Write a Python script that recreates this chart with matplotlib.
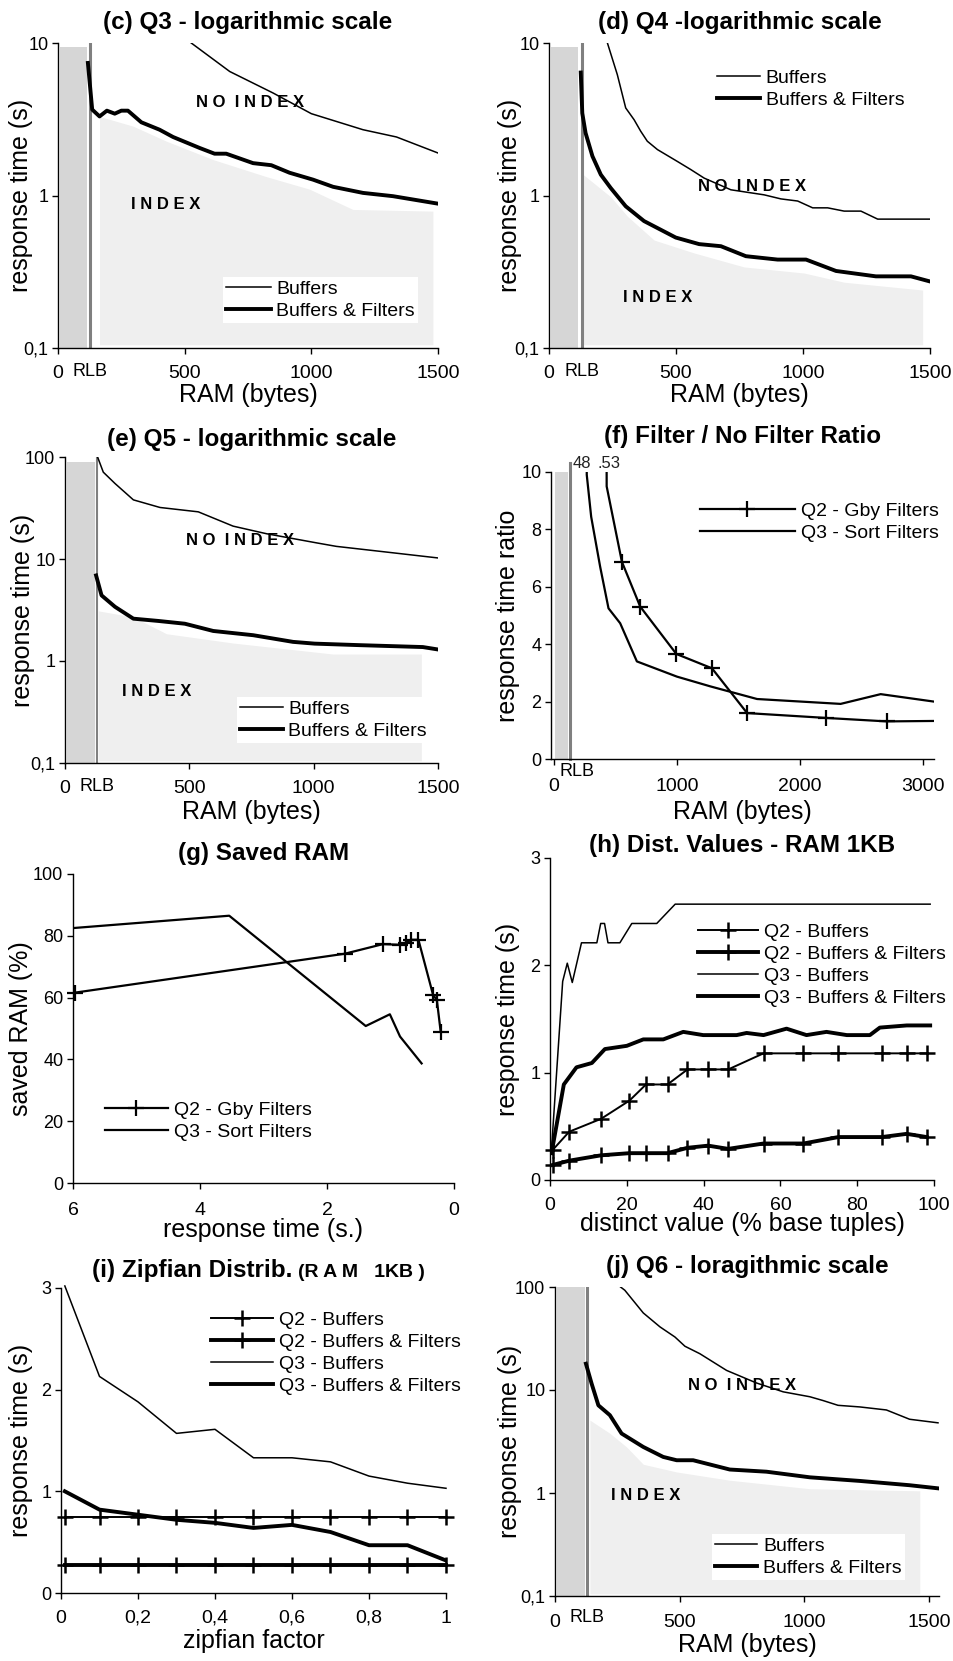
import numpy as np
import matplotlib
matplotlib.use("Agg")
from matplotlib import pyplot as plt

plt.rcParams['font.family'] = ['Liberation Sans', 'DejaVu Sans']

W, H = 954, 1661

# (c) Q3 - logarithmic scale
c_buf_x = [526, 678, 849, 1000, 1204, 1336, 1507]
c_buf_y = [10, 6.5, 4.7, 3.44, 2.7, 2.42, 1.88]
c_filt_x = [118, 135, 164, 193, 224, 250, 276, 329, 401, 454, 559, 618, 664,
            770, 842, 914, 1007, 1086, 1204, 1322, 1507]
c_filt_y = [7.4, 3.66, 3.3, 3.6, 3.44, 3.6, 3.6, 3.02, 2.7, 2.42, 2.05, 1.88,
            1.88, 1.63, 1.58, 1.41, 1.27, 1.14, 1.04, 0.99, 0.88]
c_index_x = [164, 296, 428, 612, 822, 993, 1164, 1480]
c_index_y = [3.3, 2.85, 2.27, 1.72, 1.33, 1.1, 0.81, 0.79]

# (d) Q4 - logarithmic scale
d_buf_x = [230, 269, 302, 335, 361, 387, 427, 506, 558, 611, 716, 847, 913,
           979, 1038, 1097, 1162, 1228, 1294, 1511]
d_buf_y = [10, 6.2, 3.75, 3.14, 2.64, 2.27, 2.0, 1.67, 1.48, 1.30, 1.09, 1.01,
           0.95, 0.92, 0.83, 0.83, 0.79, 0.79, 0.70, 0.70]
d_filt_x = [125, 131, 144, 171, 204, 243, 302, 374, 499, 591, 677, 775, 900,
            1012, 1130, 1287, 1425, 1511]
d_filt_y = [6.4, 3.47, 2.57, 1.81, 1.37, 1.12, 0.85, 0.68, 0.53, 0.48, 0.465,
            0.40, 0.38, 0.38, 0.32, 0.295, 0.295, 0.27]
d_index_x = [135, 243, 309, 414, 571, 768, 1005, 1162, 1471]
d_index_y = [1.37, 0.98, 0.73, 0.51, 0.42, 0.34, 0.31, 0.27, 0.24]

# (e) Q5 - logarithmic scale
e_buf_x = [131, 154, 201, 275, 382, 536, 676, 810, 1011, 1091, 1319, 1506]
e_buf_y = [100, 71, 55, 38, 32, 29, 21, 17.7, 14.4, 13.3, 11.5, 10.2]
e_filt_x = [125, 147, 201, 275, 375, 482, 596, 757, 917, 1004, 1185, 1439, 1506]
e_filt_y = [6.9, 4.4, 3.4, 2.6, 2.47, 2.32, 1.97, 1.79, 1.54, 1.48, 1.43,
            1.37, 1.29]
e_index_x = [134, 275, 408, 676, 1078, 1433]
e_index_y = [3.1, 2.7, 1.85, 1.5, 1.17, 1.17]

# (f) Filter / No Filter Ratio
f_gby_x = [415, 428, 552, 701, 995, 1285, 1571, 2217, 2707, 3200]
f_gby_y = [53, 9.5, 6.87, 5.31, 3.66, 3.16, 1.6, 1.43, 1.31, 1.33]
f_sort_x = [255, 266, 302, 375, 443, 538, 674, 1000, 1272, 1652, 2332, 2658, 3092]
f_sort_y = [48, 9.9, 8.44, 6.7, 5.25, 4.73, 3.4, 2.87, 2.53, 2.09, 1.92, 2.26, 2.0]

# (g) Saved RAM
g_gby_x = [5.97, 1.72, 1.12, 0.85, 0.76, 0.67, 0.56, 0.33, 0.27, 0.21]
g_gby_y = [61.6, 74.2, 77.3, 77.1, 77.8, 78.7, 78.7, 60.9, 59.2, 49]
g_sort_x = [6.0, 3.54, 1.39, 1.01, 0.85, 0.51]
g_sort_y = [82.5, 86.5, 50.8, 54.6, 47.4, 38.7]

# (h) Dist. Values - RAM 1KB
h_q2_x = [0.7, 5.0, 13.3, 20.7, 25.0, 30.6, 35.8, 41.2, 46.4, 55.6, 66.0,
          75.1, 86.4, 92.9, 98.1]
h_q2_buf = [0.28, 0.45, 0.57, 0.74, 0.89, 0.89, 1.03, 1.03, 1.03, 1.18, 1.18,
            1.18, 1.18, 1.18, 1.18]
h_q2_filt = [0.14, 0.18, 0.23, 0.25, 0.25, 0.25, 0.30, 0.32, 0.29, 0.34, 0.34,
             0.40, 0.40, 0.43, 0.40]
h_q3_buf_x = [0.4, 3.3, 4.5, 5.8, 8.2, 12.2, 13.2, 14.2, 15.1, 18.2, 21.3,
              27.8, 32.6, 99]
h_q3_buf_y = [0.29, 1.85, 2.02, 1.84, 2.21, 2.21, 2.39, 2.39, 2.21, 2.21, 2.39,
              2.39, 2.57, 2.57]
h_q3_filt_x = [0.4, 3.6, 6.9, 10.9, 14.3, 20.0, 24.3, 29.5, 34.7, 39.9, 48.6,
               51.2, 55.6, 61.6, 66.8, 72.0, 77.3, 83.3, 85.9, 92.9, 99]
h_q3_filt_y = [0.25, 0.89, 1.05, 1.09, 1.22, 1.25, 1.31, 1.31, 1.38, 1.35,
               1.35, 1.37, 1.35, 1.41, 1.35, 1.38, 1.35, 1.35, 1.42, 1.44, 1.44]

# (i) Zipfian Distrib. (RAM 1KB)
i_x = [0.01, 0.1, 0.2, 0.3, 0.4, 0.5, 0.6, 0.7, 0.8, 0.9, 1.0]
i_q2_buf = [0.75] * 11
i_q2_filt = [0.28] * 11
i_q3_buf = [3.02, 2.13, 1.88, 1.57, 1.61, 1.33, 1.33, 1.29, 1.15, 1.08, 1.03]
i_q3_filt = [1.0, 0.82, 0.77, 0.72, 0.69, 0.64, 0.67, 0.60, 0.47, 0.47, 0.32]

# (j) Q6 - logarithmic scale
j_buf_x = [263, 280, 354, 421, 481, 521, 581, 688, 808, 915, 1022, 1075, 1135,
           1222, 1329, 1422, 1536]
j_buf_y = [100, 93, 56, 41, 32.7, 26.6, 22.5, 15.5, 11.7, 9.6, 8.6, 7.9, 7.1,
           6.85, 6.4, 5.2, 4.8]
j_filt_x = [124, 147, 174, 220, 267, 354, 434, 488, 554, 701, 848, 1022, 1222,
            1422, 1536]
j_filt_y = [18, 11.5, 7.1, 5.7, 3.78, 2.8, 2.24, 2.08, 2.08, 1.69, 1.61, 1.42,
            1.31, 1.19, 1.11]
j_index_x = [140, 220, 287, 354, 488, 701, 1022, 1463]
j_index_y = [5.1, 3.8, 2.8, 1.9, 1.6, 1.33, 1.1, 1.05]

log_ticks = [0.1, 1, 10, 100]
log_labels = ['0,1', '1', '10', '100']
zipf_ticks = [0, 0.2, 0.4, 0.6, 0.8, 1.0]
zipf_labels = ['0', '0,2', '0,4', '0,6', '0,8', '1']

THIN = 1.1
THICK = 2.8
BOX = '#d6d6d6'
FILL = '#efefef'
TITLE = 17.5
LABEL = 18


def make_ax(fig, left, top, right, bottom, xpad=8):
    ax = fig.add_axes([left / W, 1 - bottom / H, (right - left) / W,
                       (bottom - top) / H])
    for s in ['top', 'right']:
        ax.spines[s].set_visible(False)
    for s in ['left', 'bottom']:
        ax.spines[s].set_linewidth(1.0)
    ax.tick_params(direction='out', length=4, width=1)
    ax.tick_params(axis='x', labelsize=14, pad=xpad)
    ax.tick_params(axis='y', labelsize=13, pad=3)
    return ax


def labels(ax, xlabel, ylabel, xc, yc):
    ax.set_xlabel(xlabel, fontsize=LABEL)
    ax.set_ylabel(ylabel, fontsize=LABEL)
    ax.xaxis.set_label_coords(0.5, xc)
    ax.yaxis.set_label_coords(yc, 0.5)


def add_legend(ax, x, y, hl, fs=14):
    leg = ax.legend(loc='center left', bbox_to_anchor=(x, y), fontsize=fs,
                    frameon=True, fancybox=False, framealpha=1,
                    edgecolor='none', facecolor='white', borderpad=0.15,
                    borderaxespad=0, handlelength=hl, handletextpad=0.3,
                    labelspacing=0.22)
    leg.set_zorder(5)


def tag(ax, x, y, txt):
    ax.text(x, y, txt, fontsize=12, fontweight='bold', ha='center',
            va='center', zorder=4)


def log_panel(ax, title, pad, ymax, rlb, box, idx_x, idx_y, bx, by, fx, fy,
              xc, yc, xmax=1500, rlb_lw=2.2, rlb_off=11):
    ax.set_yscale('log')
    ax.set_xlim(0, xmax)
    ax.set_ylim(0.1, ymax)
    ax.fill_between(box[:2], 0.1, box[2], color=BOX, lw=0, zorder=1)
    ax.fill_between(idx_x, 0.105, idx_y, color=FILL, lw=0, zorder=1)
    ax.axvline(rlb, color='#808080', lw=rlb_lw, zorder=2)
    ax.plot(bx, by, color='black', lw=THIN, label='Buffers', zorder=3)
    ax.plot(fx, fy, color='black', lw=THICK, label='Buffers & Filters',
            zorder=3)
    ax.set_yticks([t for t in log_ticks if t <= ymax])
    ax.set_yticklabels([l for t, l in zip(log_ticks, log_labels) if t <= ymax])
    ax.yaxis.set_minor_locator(plt.NullLocator())
    ax.set_xticks([0, 500, 1000, 1500])
    ax.set_title(title, fontsize=TITLE, fontweight='bold', pad=pad)
    labels(ax, 'RAM (bytes)', 'response time (s)', xc, yc)
    ax.annotate('RLB', xy=(rlb, 0), xycoords=('data', 'axes fraction'),
                xytext=(0, -rlb_off), textcoords='offset points', ha='center',
                va='top', fontsize=13)


fig = plt.figure(figsize=(W / 100, H / 100), dpi=100)

# (c)
ax = make_ax(fig, 58, 43, 438, 348)
log_panel(ax, '(c) Q3 - logarithmic scale', 10, 10, 125, (7, 114, 9.4),
          c_index_x, c_index_y, c_buf_x, c_buf_y, c_filt_x, c_filt_y,
          -0.115, -0.066)
tag(ax, 757, 4.1, 'N O  I N D E X')
tag(ax, 424, 0.87, 'I N D E X')
add_legend(ax, 0.434, 0.157, 2.3)

# (d)
ax = make_ax(fig, 549, 43, 930, 348)
log_panel(ax, '(d) Q4 -logarithmic scale', 10, 10, 131, (9, 114, 9.4),
          d_index_x, d_index_y, d_buf_x, d_buf_y, d_filt_x, d_filt_y,
          -0.115, -0.071)
tag(ax, 801, 1.15, 'N O  I N D E X')
tag(ax, 427, 0.213, 'I N D E X')
add_legend(ax, 0.433, 0.849, 2.2)

# (e)
ax = make_ax(fig, 65, 457, 438, 763)
log_panel(ax, '(e) Q5 - logarithmic scale', 8, 100, 127, (7, 120, 89),
          e_index_x, e_index_y, e_buf_x, e_buf_y, e_filt_x, e_filt_y,
          -0.121, -0.08, rlb_lw=1.5)
tag(ax, 703, 15.2, 'N O  I N D E X')
tag(ax, 368, 0.5, 'I N D E X')
add_legend(ax, 0.461, 0.14, 2.2)

# (f)
ax = make_ax(fig, 551, 472, 934, 759, xpad=10)
ax.set_xlim(-25, 3092)
ax.set_ylim(0, 10)
ax.fill_between([8, 117], 0, 10, color=BOX, lw=0, zorder=1)
ax.axvline(130, ymax=1.03, color='#808080', lw=2.2, zorder=2, clip_on=False)
ax.plot(f_gby_x, f_gby_y, color='black', lw=1.6, marker='+', ms=11, mew=1.6,
        markevery=list(range(2, len(f_gby_x))), label='Q2 - Gby Filters',
        zorder=3)
ax.plot(f_sort_x, f_sort_y, color='black', lw=1.6, label='Q3 - Sort Filters',
        zorder=3)
ax.text(f_sort_x[0] - 108, 10.05, '%d' % f_sort_y[0], fontsize=12,
        va='bottom', ha='left', color='#222222')
ax.text(f_gby_x[0] - 65, 10.05, '.%d' % f_gby_y[0], fontsize=12,
        va='bottom', ha='left', color='#222222')
ax.set_xticks([0, 1000, 2000, 3000])
ax.set_yticks([0, 2, 4, 6, 8, 10])
ax.annotate('RLB', xy=(185, 0), xycoords=('data', 'axes fraction'),
            xytext=(0, -3), textcoords='offset points', ha='center',
            va='top', fontsize=13)
ax.set_title('(f) Filter / No Filter Ratio', fontsize=TITLE,
             fontweight='bold', pad=21)
labels(ax, 'RAM (bytes)', 'response time ratio', -0.143, -0.081)
add_legend(ax, 0.381, 0.826, 4.9)

# (g)
ax = make_ax(fig, 73, 874, 454, 1183, xpad=10)
ax.set_xlim(6, 0)
ax.set_ylim(0, 100)
ax.plot(g_gby_x, g_gby_y, color='black', lw=1.6, marker='+', ms=11, mew=1.6,
        label='Q2 - Gby Filters', clip_on=False)
ax.plot(g_sort_x, g_sort_y, color='black', lw=1.6, label='Q3 - Sort Filters')
ax.set_xticks([6, 4, 2, 0])
ax.set_yticks([0, 20, 40, 60, 80, 100])
ax.set_title('(g) Saved RAM', fontsize=TITLE, fontweight='bold', pad=10)
labels(ax, 'response time (s.)', 'saved RAM (%)', -0.113, -0.105)
add_legend(ax, 0.076, 0.2, 3.25)

# (h)
ax = make_ax(fig, 550, 858, 934, 1180)
ax.set_xlim(0, 100)
ax.set_ylim(0, 3)
ax.plot(h_q2_x, h_q2_buf, color='black', lw=THIN + 0.3, marker='+', ms=11,
        mew=1.8, label='Q2 - Buffers', clip_on=False)
ax.plot(h_q2_x, h_q2_filt, color='black', lw=THICK, marker='+', ms=11,
        mew=1.8, label='Q2 - Buffers & Filters', clip_on=False)
ax.plot(h_q3_buf_x, h_q3_buf_y, color='black', lw=THIN, label='Q3 - Buffers')
ax.plot(h_q3_filt_x, h_q3_filt_y, color='black', lw=THICK,
        label='Q3 - Buffers & Filters')
ax.set_xticks([0, 20, 40, 60, 80, 100])
ax.set_yticks([0, 1, 2, 3])
ax.set_title('(h) Dist. Values - RAM 1KB', fontsize=TITLE, fontweight='bold',
             pad=4)
labels(ax, 'distinct value (% base tuples)', 'response time (s)', -0.1,
       -0.078)
add_legend(ax, 0.378, 0.668, 3.1)

# (i)
ax = make_ax(fig, 61, 1288, 446, 1593)
ax.set_xlim(0, 1)
ax.set_ylim(0, 3)
ax.plot(i_x, i_q2_buf, color='black', lw=THIN + 0.3, marker='+', ms=11,
        mew=1.8, label='Q2 - Buffers', clip_on=False)
ax.plot(i_x, i_q2_filt, color='black', lw=THICK, marker='+', ms=11, mew=1.8,
        label='Q2 - Buffers & Filters', clip_on=False)
ax.plot(i_x, i_q3_buf, color='black', lw=THIN, label='Q3 - Buffers',
        clip_on=False)
ax.plot(i_x, i_q3_filt, color='black', lw=THICK,
        label='Q3 - Buffers & Filters')
ax.set_xticks(zipf_ticks)
ax.set_xticklabels(zipf_labels)
ax.set_yticks([0, 1, 2, 3])
ax.annotate('(i) Zipfian Distrib.', xy=(0.6, 1), xycoords='axes fraction',
            xytext=(0, 8), textcoords='offset points', ha='right',
            va='baseline', fontsize=TITLE, fontweight='bold')
ax.annotate('(R A M   1KB )', xy=(0.615, 1), xycoords='axes fraction',
            xytext=(0, 8), textcoords='offset points', ha='left',
            va='baseline', fontsize=14, fontweight='bold')
labels(ax, 'zipfian factor', 'response time (s)', -0.117, -0.073)
add_legend(ax, 0.382, 0.787, 3.2)

# (j)
ax = make_ax(fig, 555, 1287, 939, 1596, xpad=9)
log_panel(ax, '(j) Q6 - loragithmic scale', 10, 100, 127, (7, 120, 109),
          j_index_x, j_index_y, j_buf_x, j_buf_y, j_filt_x, j_filt_y,
          -0.12, -0.087, xmax=1540, rlb_off=9)
tag(ax, 750, 11, 'N O  I N D E X')
tag(ax, 363, 0.95, 'I N D E X')
add_legend(ax, 0.408, 0.126, 2.2)

plt.savefig('out.png', dpi=100)
